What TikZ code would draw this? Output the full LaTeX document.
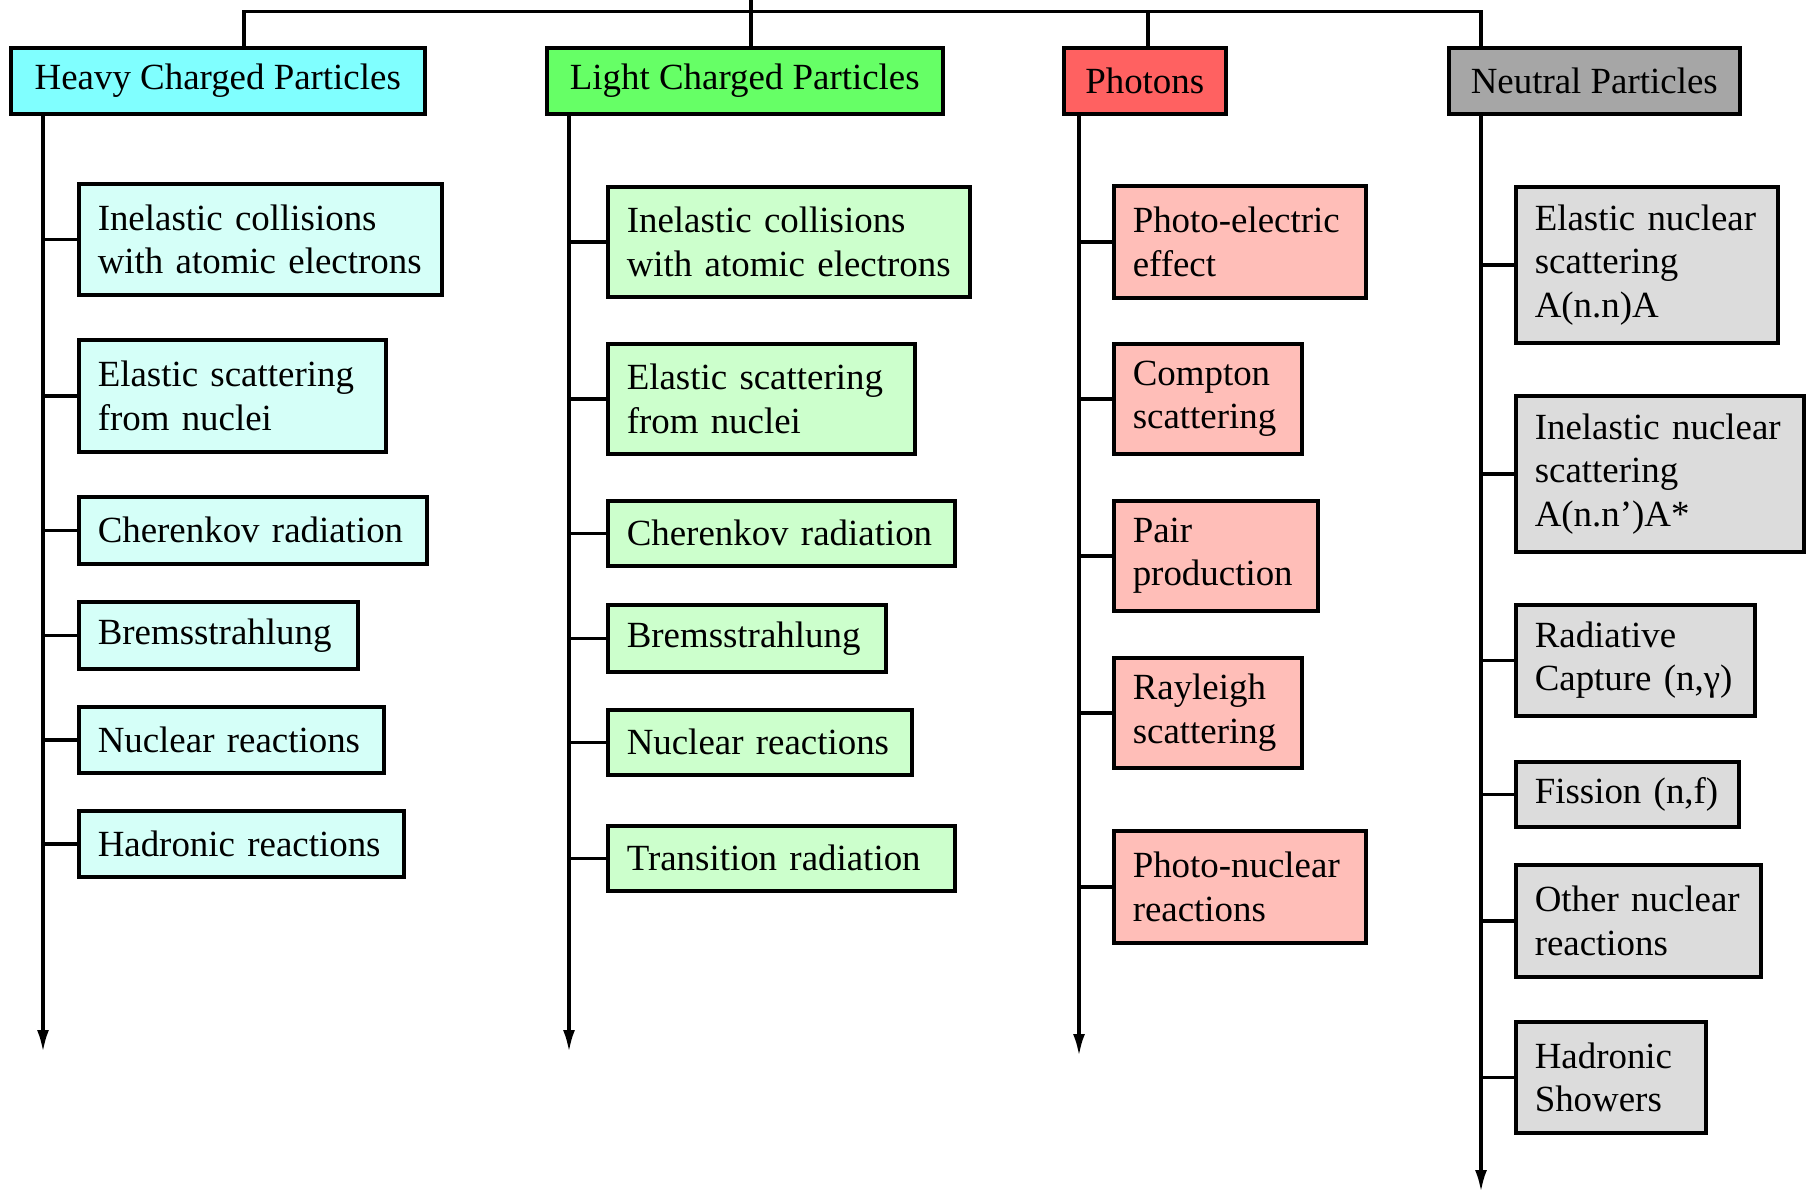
\documentclass[tikz,border=0pt]{standalone}
\usepackage{fontspec}
\setmainfont{Liberation Serif}
\usetikzlibrary{arrows.meta}
\hyphenpenalty=10000
\exhyphenpenalty=10000

\definecolor{hvyhead}{HTML}{80FFFF}
\definecolor{hvysub}{HTML}{D5FFF8}
\definecolor{lgthead}{HTML}{66FF66}
\definecolor{lgtsub}{HTML}{CCFFCC}
\definecolor{phohead}{HTML}{FF6161}
\definecolor{phosub}{HTML}{FFBEB8}
\definecolor{neuhead}{HTML}{A6A6A6}
\definecolor{neusub}{HTML}{DCDCDC}

\begin{document}
\begin{tikzpicture}[font=\fontsize{10.5}{12.4}\selectfont,
	head/.style={draw, line width=1pt, anchor=north west, inner sep=0pt, minimum height=0.66cm},
	sub/.style={draw, line width=1pt, anchor=north west, inner xsep=0.19cm, inner ysep=0pt, align=left},
	trunk/.style={line width=0.95pt, -{Latex[length=2.2mm,width=1.2mm]}},
	stub/.style={line width=1pt}]
	\useasboundingbox (0,0) rectangle (18.1,-11.94);

	% headers
	\node[head, fill=hvyhead, minimum width=4.14cm] (hh) at (0.09,-0.46) {Heavy Charged Particles};
	\node[head, fill=lgthead, minimum width=3.96cm] (lh) at (5.45,-0.46) {Light Charged Particles};
	\node[head, fill=phohead, minimum width=1.62cm] (ph) at (10.62,-0.46) {Photons};
	\node[head, fill=neuhead, minimum width=2.91cm] (nh) at (14.47,-0.46) {Neutral Particles};

	% top bar
	\coordinate (root) at (7.51,0);
	\coordinate (tl) at (2.44,-0.115);
	\coordinate (tr) at (14.81,-0.115);
	\coordinate (tp) at (11.48,-0.115);
	\draw[stub, line width=1.1pt] (hh.north -| tl) -- (tl) -- (tr) -- (nh.north -| tr);
	\draw[stub] (root) -- (lh.north -| root);
	\draw[stub] (tp) -- (ph.north -| tp);

	% heavy charged particles
	\node[sub, fill=hvysub, text width=3.25cm, minimum height=1.11cm] (hinel) at (0.77,-1.82) {Inelastic collisions\\with~atomic~electrons};
	\node[sub, fill=hvysub, text width=2.69cm, minimum height=1.12cm] (hel) at (0.77,-3.38) {Elastic scattering\\from nuclei};
	\node[sub, fill=hvysub, text width=3.10cm, minimum height=0.67cm] (hcher) at (0.77,-4.95) {Cherenkov~radiation};
	\node[sub, fill=hvysub, text width=2.41cm, minimum height=0.67cm] (hbrem) at (0.77,-6.00) {Bremsstrahlung};
	\node[sub, fill=hvysub, text width=2.67cm, minimum height=0.66cm] (hnuc) at (0.77,-7.05) {Nuclear~reactions};
	\node[sub, fill=hvysub, text width=2.87cm, minimum height=0.66cm] (hhad) at (0.77,-8.09) {Hadronic~reactions};

	\coordinate (hend) at (0.43,-10.52);
	\draw[trunk] (hh.south -| hend) -- (hend);
	\draw[stub] (hinel.west) -- (hinel.west -| hend);
	\draw[stub] (hel.west) -- (hel.west -| hend);
	\draw[stub] (hcher.west) -- (hcher.west -| hend);
	\draw[stub] (hbrem.west) -- (hbrem.west -| hend);
	\draw[stub] (hnuc.west) -- (hnuc.west -| hend);
	\draw[stub] (hhad.west) -- (hhad.west -| hend);

	% light charged particles
	\node[sub, fill=lgtsub, text width=3.24cm, minimum height=1.10cm] (linel) at (6.06,-1.85) {Inelastic collisions\\with~atomic~electrons};
	\node[sub, fill=lgtsub, text width=2.69cm, minimum height=1.10cm] (lel) at (6.06,-3.42) {Elastic scattering\\from nuclei};
	\node[sub, fill=lgtsub, text width=3.09cm, minimum height=0.65cm] (lcher) at (6.06,-4.99) {Cherenkov~radiation};
	\node[sub, fill=lgtsub, text width=2.40cm, minimum height=0.67cm] (lbrem) at (6.06,-6.03) {Bremsstrahlung};
	\node[sub, fill=lgtsub, text width=2.66cm, minimum height=0.65cm] (lnuc) at (6.06,-7.08) {Nuclear~reactions};
	\node[sub, fill=lgtsub, text width=3.09cm, minimum height=0.65cm] (ltrans) at (6.06,-8.24) {Transition~radiation};

	\coordinate (lend) at (5.69,-10.52);
	\draw[trunk] (lh.south -| lend) -- (lend);
	\draw[stub] (linel.west) -- (linel.west -| lend);
	\draw[stub] (lel.west) -- (lel.west -| lend);
	\draw[stub] (lcher.west) -- (lcher.west -| lend);
	\draw[stub] (lbrem.west) -- (lbrem.west -| lend);
	\draw[stub] (lnuc.west) -- (lnuc.west -| lend);
	\draw[stub] (ltrans.west) -- (ltrans.west -| lend);

	% photons
	\node[sub, fill=phosub, text width=2.14cm, minimum height=1.12cm] (pphot) at (11.12,-1.84) {Photo-electric\\effect};
	\node[sub, fill=phosub, text width=1.50cm, minimum height=1.10cm] (pcomp) at (11.12,-3.42) {Compton\\scattering};
	\node[sub, fill=phosub, text width=1.66cm, minimum height=1.10cm] (ppair) at (11.12,-4.99) {Pair\\production};
	\node[sub, fill=phosub, text width=1.50cm, minimum height=1.10cm] (pray) at (11.12,-6.56) {Rayleigh\\scattering};
	\node[sub, fill=phosub, text width=2.14cm, minimum height=1.12cm] (pnuc) at (11.12,-8.29) {Photo-nuclear\\reactions};

	\coordinate (pend) at (10.79,-10.56);
	\draw[trunk] (ph.south -| pend) -- (pend);
	\draw[stub] (pphot.west) -- (pphot.west -| pend);
	\draw[stub] (pcomp.west) -- (pcomp.west -| pend);
	\draw[stub] (ppair.west) -- (ppair.west -| pend);
	\draw[stub] (pray.west) -- (pray.west -| pend);
	\draw[stub] (pnuc.west) -- (pnuc.west -| pend);

	% neutral particles
	\node[sub, fill=neusub, text width=2.24cm, minimum height=1.56cm] (nel) at (15.14,-1.85) {Elastic~nuclear\\scattering\\A(n.n)A};
	\node[sub, fill=neusub, text width=2.50cm, minimum height=1.56cm] (ninel) at (15.14,-3.94) {Inelastic~nuclear\\scattering\\A(n.n’)A*};
	\node[sub, fill=neusub, text width=2.01cm, minimum height=1.11cm] (nrad) at (15.14,-6.03) {Radiative\\Capture~(n,γ)};
	\node[sub, fill=neusub, text width=1.85cm, minimum height=0.65cm] (nfis) at (15.14,-7.60) {Fission~(n,f)};
	\node[sub, fill=neusub, text width=2.07cm, minimum height=1.12cm] (noth) at (15.14,-8.63) {Other~nuclear\\reactions};
	\node[sub, fill=neusub, text width=1.52cm, minimum height=1.11cm] (nhad) at (15.14,-10.20) {Hadronic\\Showers};

	\coordinate (nend) at (14.81,-11.92);
	\draw[trunk] (nh.south -| nend) -- (nend);
	\draw[stub] (nel.west) -- (nel.west -| nend);
	\draw[stub] (ninel.west) -- (ninel.west -| nend);
	\draw[stub] (nrad.west) -- (nrad.west -| nend);
	\draw[stub] (nfis.west) -- (nfis.west -| nend);
	\draw[stub] (noth.west) -- (noth.west -| nend);
	\draw[stub] (nhad.west) -- (nhad.west -| nend);
\end{tikzpicture}
\end{document}
